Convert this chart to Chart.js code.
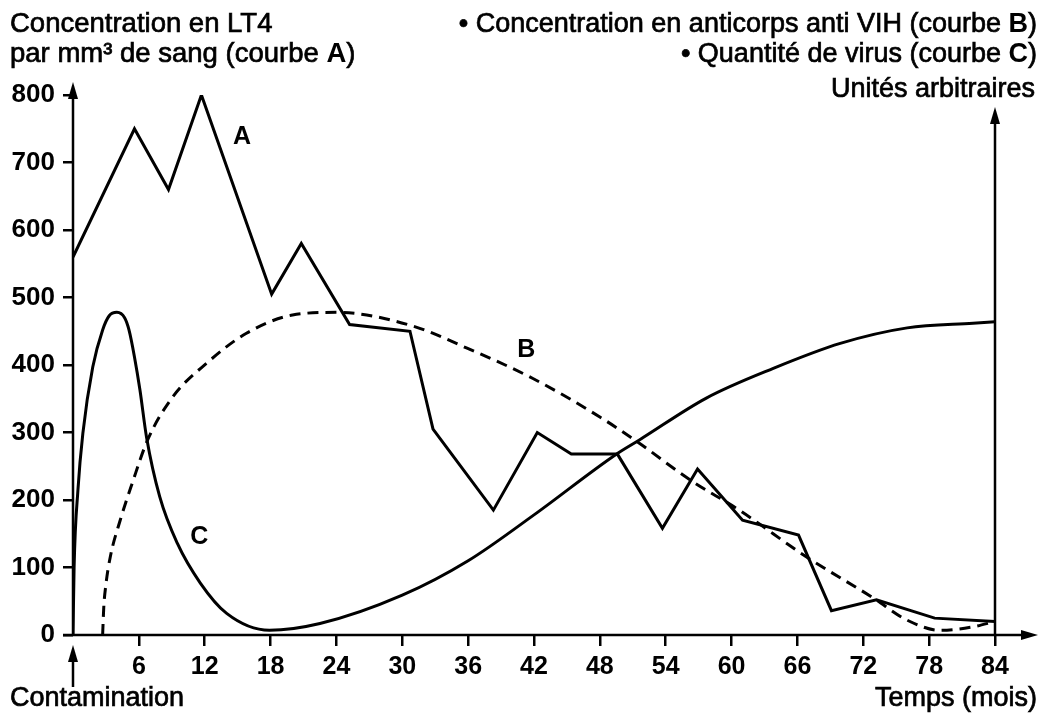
<!DOCTYPE html>
<html>
<head>
<meta charset="utf-8">
<script src="https://cdn.jsdelivr.net/npm/chart.js@4/dist/chart.umd.min.js"></script>
<style>
  html, body { margin: 0; padding: 0; background: #fff; }
  #wrap { width: 1043px; height: 714px; }
</style>
</head>
<body>
<div id="wrap"><canvas id="vih"></canvas></div>
<script>
// courbe A : LT4 par mm3
const MOIS_A = [0, 5.6, 8.7, 11.7, 18.1, 20.8, 25.2, 30.7, 32.8, 38.3, 42.3, 45.4, 49.6, 53.7, 56.9, 61.0, 66.1, 69.1, 73.2, 78.5, 84];
const LT4_A  = [560, 750, 660, 800, 505, 580, 460, 450, 305, 185, 300, 268, 268, 158, 246, 170, 148, 36, 52, 25, 20];

// courbe B : anticorps anti VIH (unités arbitraires)
const MOIS_B = [2.7, 2.8, 3.0, 3.4, 4.3, 5.4, 6.8, 9.1, 12.2, 15.8, 20, 24, 30.7, 35.9, 41.9, 48, 51.6, 56.2, 60.7, 66.8, 72.9, 76, 79, 82, 84];
const ANTICORPS_B = [0, 40, 75, 116, 170, 225, 289, 353, 403, 447, 474, 478, 459, 425, 380, 323, 284, 230, 185, 116, 55, 22, 7, 12, 20];

// courbe C : quantité de virus (unités arbitraires)
const MOIS_C = [0, 0.1, 0.45, 0.9, 1.8, 2.7, 3.3, 4.0, 4.7, 5.1, 5.6, 6.1, 6.7, 7.9, 9.5, 11.6, 14, 17.9, 22.5, 30, 36, 42, 49.6, 51.6, 57.7, 63.8, 69.9, 76, 82, 84];
const VIRUS_C = [0, 100, 215, 299, 397, 452, 473, 478, 470, 452, 412, 363, 293, 205, 136, 77, 32, 7, 17, 59, 110, 178, 269, 289, 351, 395, 432, 455, 462, 464];

// graduations
const TICKS_X = [6, 12, 18, 24, 30, 36, 42, 48, 54, 60, 66, 72, 78, 84];
const TICKS_Y = [0, 100, 200, 300, 400, 500, 600, 700, 800];

// étiquettes des courbes [texte, mois, valeur]
const ETIQUETTES = [['A', 15.4, 738], ['B', 41.3, 422], ['C', 11.5, 145]];

const FONT = '"Liberation Sans", Arial, Helvetica, sans-serif';
Chart.defaults.font.family = FONT;
Chart.defaults.color = '#000';

function pts(xs, ys) {
    return xs.map((x, i) => ({ x: x, y: ys[i] }));
}

// texte avec morceaux en gras, aligné à gauche ou à droite
function richText(ctx, parts, x, y, align, size) {
    const fonts = parts.map(p => (p[1] ? 'bold ' : '') + size + 'px ' + FONT);
    let widths = parts.map((p, i) => { ctx.font = fonts[i]; return ctx.measureText(p[0]).width; });
    let total = widths.reduce((a, b) => a + b, 0);
    let cx = align === 'right' ? x - total : x;
    ctx.textAlign = 'left';
    ctx.textBaseline = 'alphabetic';
    ctx.lineWidth = 0.7;
    parts.forEach((p, i) => {
        ctx.font = fonts[i];
        ctx.fillText(p[0], cx, y);
        if (!p[1]) ctx.strokeText(p[0], cx, y); // un peu plus épais, comme le scan
        cx += widths[i];
    });
}

function arrowHead(ctx, x, y, dir) {
    // dir: 'up' ou 'right'
    ctx.beginPath();
    if (dir === 'up') {
        ctx.moveTo(x, y);
        ctx.lineTo(x - 5, y + 17);
        ctx.lineTo(x + 5, y + 17);
    } else {
        ctx.moveTo(x, y);
        ctx.lineTo(x - 17, y - 5);
        ctx.lineTo(x - 17, y + 5);
    }
    ctx.closePath();
    ctx.fill();
}

const decor = {
    id: 'decor',
    afterDraw(chart) {
        const ctx = chart.ctx;
        const sx = chart.scales.x, sy = chart.scales.y;
        const x0 = sx.getPixelForValue(0), x84 = sx.getPixelForValue(84);
        const y0 = sy.getPixelForValue(0), y800 = sy.getPixelForValue(800);
        ctx.save();
        ctx.strokeStyle = '#000';
        ctx.fillStyle = '#000';
        ctx.lineWidth = 2.5;

        // axes
        ctx.beginPath();
        ctx.moveTo(x0 - 10, y0); ctx.lineTo(x84 + 30, y0);
        ctx.moveTo(x0, y0); ctx.lineTo(x0, y800 - 5);
        ctx.moveTo(x84, y0); ctx.lineTo(x84, y800 + 20);
        ctx.stroke();
        arrowHead(ctx, x84 + 43, y0, 'right');
        arrowHead(ctx, x0, y800 - 13, 'up');
        arrowHead(ctx, x84, y800 + 12, 'up');

        // flèche contamination
        ctx.beginPath();
        ctx.moveTo(x0, y0 + 52); ctx.lineTo(x0, y0 + 22);
        ctx.stroke();
        arrowHead(ctx, x0, y0 + 10, 'up');

        // titres
        richText(ctx, [['Concentration en LT4', false]], 10, 32, 'left', 27.5);
        richText(ctx, [['par mm³ de sang (courbe ', false], ['A', true], [')', false]], 10, 62, 'left', 27.5);
        richText(ctx, [['• Concentration en anticorps anti VIH (courbe ', false], ['B', true], [')', false]], 1037, 32, 'right', 27);
        richText(ctx, [['• Quantité de virus (courbe ', false], ['C', true], [')', false]], 1037, 62, 'right', 27);
        richText(ctx, [['Unités arbitraires', false]], 1035, 97, 'right', 27);
        richText(ctx, [['Contamination', false]], 10, 706, 'left', 27);
        richText(ctx, [['Temps (mois)', false]], 1037, 706, 'right', 27);

        // lettres des courbes
        ctx.font = 'bold 25px ' + FONT;
        ctx.textAlign = 'center';
        ctx.textBaseline = 'middle';
        ETIQUETTES.forEach(e => {
            ctx.fillText(e[0], sx.getPixelForValue(e[1]), sy.getPixelForValue(e[2]));
        });
        ctx.restore();
    }
};

new Chart(document.getElementById('vih'), {
    type: 'line',
    data: {
        datasets: [
            {
                label: 'A',
                data: pts(MOIS_A, LT4_A),
                borderColor: '#000',
                borderWidth: 3,
                tension: 0,
                pointRadius: 0
            },
            {
                label: 'B',
                data: pts(MOIS_B, ANTICORPS_B),
                borderColor: '#000',
                borderWidth: 3,
                borderDash: [11, 7],
                cubicInterpolationMode: 'monotone',
                pointRadius: 0
            },
            {
                label: 'C',
                data: pts(MOIS_C, VIRUS_C),
                borderColor: '#000',
                borderWidth: 3,
                cubicInterpolationMode: 'monotone',
                pointRadius: 0
            }
        ]
    },
    options: {
        responsive: true,
        maintainAspectRatio: false,
        animation: false,
        layout: { padding: { left: 0, right: 48, top: 95, bottom: 0 } },
        plugins: { legend: { display: false }, tooltip: { enabled: false } },
        scales: {
            x: {
                type: 'linear',
                min: 0,
                max: 84,
                afterBuildTicks: s => { s.ticks = TICKS_X.map(v => ({ value: v })); },
                afterFit: s => { s.height = 79; },
                border: { display: false },
                grid: { drawOnChartArea: false, tickLength: 11, color: '#000', lineWidth: 2.5 },
                ticks: { padding: 6, maxRotation: 0, font: { size: 25, weight: 'bold' }, autoSkip: false }
            },
            y: {
                min: 0,
                max: 800,
                afterBuildTicks: s => { s.ticks = TICKS_Y.map(v => ({ value: v })); },
                afterFit: s => { s.width = 73; },
                border: { display: false },
                grid: { drawOnChartArea: false, tickLength: 10, color: '#000', lineWidth: 2.5 },
                ticks: { padding: 8, font: { size: 26, weight: 'bold' } }
            }
        }
    },
    plugins: [decor]
});
</script>
</body>
</html>
